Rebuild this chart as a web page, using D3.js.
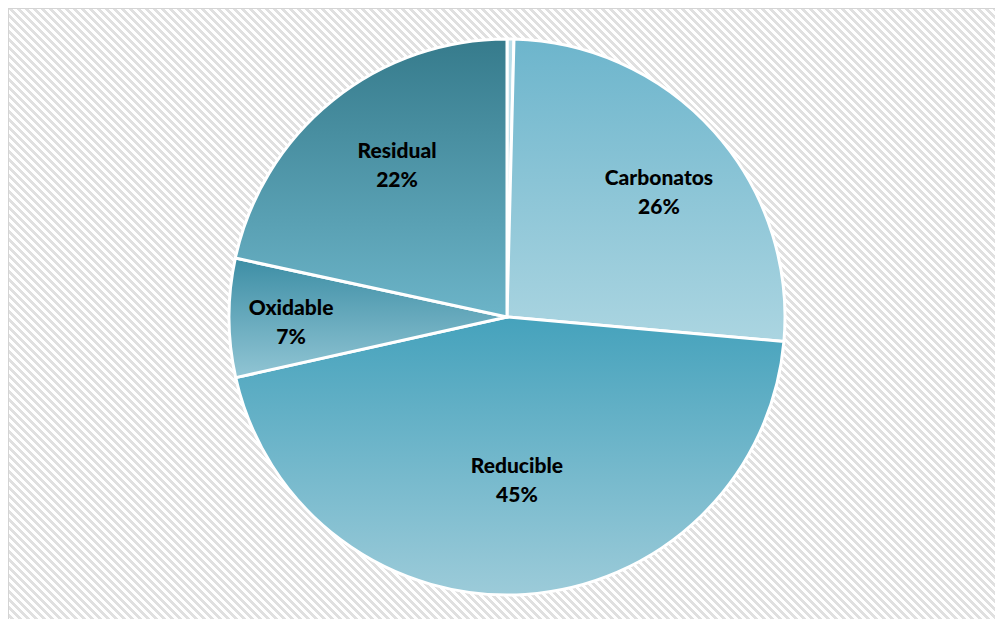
<!DOCTYPE html>
<html>
<head>
<meta charset="utf-8">
<script src="https://cdn.jsdelivr.net/npm/d3@7"></script>
<style>
  html, body { margin: 0; padding: 0; background: #ffffff; }
  svg { display: block; }
</style>
</head>
<body>
<script>
// Fraction shares (%) of the sequential extraction
const categories = ["Intercambiable", "Carbonatos", "Reducible", "Oxidable", "Residual"];
const values = [0.4, 26.0, 45.1, 6.9, 21.6];
const showLabel = [false, true, true, true, true];
// Gradient stops (top, bottom) for each slice
const topColors = ["#b9dde8", "#6db5cc", "#45a2bc", "#3d8ea5", "#367b8c"];
const bottomColors = ["#cfe7ef", "#abd5e1", "#9ccbd9", "#91c5d4", "#6cb4c8"];

const W = 995, H = 619;
const cx = 507, cy = 317, R = 278;
// label placement: radial share of the radius and angular nudge (degrees)
const labelPos = [0.7, 0.707, 0.589, 0.777, 0.675];
const labelNudge = [0, 2.4, 0.3, -1.1, 3.0];

const svg = d3.select("body").append("svg")
  .attr("width", W).attr("height", H);

const defs = svg.append("defs");

// Downward diagonal hatch for the chart area
const pat = defs.append("pattern")
  .attr("id", "hatch")
  .attr("patternUnits", "userSpaceOnUse")
  .attr("width", 8).attr("height", 8);
pat.append("rect").attr("width", 8).attr("height", 8).attr("fill", "#ffffff");
for (let y = 0; y < 8; y++) {
  for (let k = 0; k < 4; k++) {
    pat.append("rect")
      .attr("x", (y + k) % 8).attr("y", y)
      .attr("width", 1).attr("height", 1)
      .attr("fill", "#e0e0e0");
  }
}

svg.append("rect")
  .attr("x", 8.5).attr("y", 8.5)
  .attr("width", W + 10).attr("height", H + 10)
  .attr("fill", "url(#hatch)")
  .attr("stroke", "#d4d4d4")
  .attr("stroke-width", 1);

categories.forEach((c, i) => {
  const g = defs.append("linearGradient")
    .attr("id", "grad" + i)
    .attr("x1", 0).attr("y1", 0).attr("x2", 0).attr("y2", 1);
  g.append("stop").attr("offset", "0%").attr("stop-color", topColors[i]);
  g.append("stop").attr("offset", "100%").attr("stop-color", bottomColors[i]);
});

const data = categories.map((c, i) => ({ name: c, value: values[i], i }));

const pie = d3.pie().sort(null).value(d => d.value);
const arcs = pie(data);
const arc = d3.arc().innerRadius(0).outerRadius(R);

const gPie = svg.append("g").attr("transform", `translate(${cx},${cy})`);

gPie.selectAll("path.slice")
  .data(arcs)
  .join("path")
  .attr("class", "slice")
  .attr("d", arc)
  .attr("fill", d => `url(#grad${d.data.i})`)
  .attr("stroke", "#ffffff")
  .attr("stroke-width", 3)
  .attr("stroke-linejoin", "round");

const labels = gPie.selectAll("g.lab")
  .data(arcs.filter(d => showLabel[d.data.i]))
  .join("g")
  .attr("class", "lab")
  .attr("transform", d => {
    const a = (d.startAngle + d.endAngle) / 2 + labelNudge[d.data.i] * Math.PI / 180;
    const r = R * labelPos[d.data.i];
    return `translate(${r * Math.sin(a)},${-r * Math.cos(a)})`;
  });

labels.append("text")
  .attr("text-anchor", "middle")
  .attr("font-family", "Lato, 'Open Sans', sans-serif")
  .attr("font-weight", 900)
  .attr("font-size", 21)
  .attr("fill", "#000000")
  .selectAll("tspan")
  .data(d => [d.data.name, Math.round(d.data.value) + "%"])
  .join("tspan")
  .attr("x", 0)
  .attr("y", (t, j) => j === 0 ? -7 : 22)
  .text(t => t);
</script>
</body>
</html>
